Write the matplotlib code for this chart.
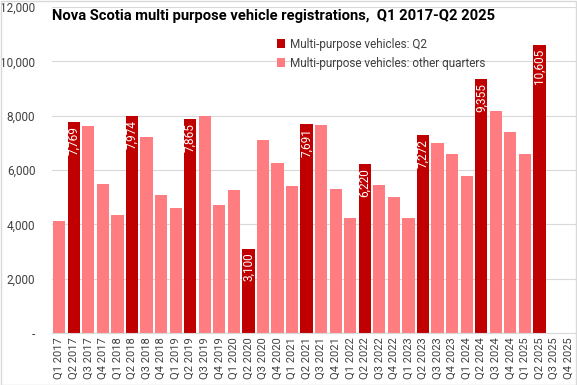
import matplotlib
matplotlib.use("Agg")
import matplotlib.pyplot as plt
import numpy as np
from matplotlib.ticker import FuncFormatter
from matplotlib.patches import Rectangle

years = list(range(2017, 2026))
categories = []
for y in years:
    for q in range(1, 5):
        categories.append(f"Q{q} {y}")

values = [4120, 7769, 7615, 5467,
          4356, 7974, 7208, 5090,
          4604, 7865, 7986, 4715,
          5271, 3100, 7086, 6271,
          5419, 7691, 7641, 5308,
          4234, 6220, 5456, 5012,
          4234, 7272, 6975, 6604,
          5789, 9355, 8160, 7382,
          6604, 10605, np.nan, np.nan]

q2_label = "Multi-purpose vehicles: Q2"
other_label = "Multi-purpose vehicles: other quarters"
title = "Nova Scotia multi purpose vehicle registrations,  Q1 2017-Q2 2025"

plt.rcParams['font.family'] = ['Roboto', 'DejaVu Sans']

fig = plt.figure(figsize=(5.77, 3.85), dpi=100)
ax = fig.add_axes([0.090, 0.135, 0.908, 0.847])
fig.patches.append(Rectangle((0.001, 0.001), 0.997, 0.996, transform=fig.transFigure,
                             fill=False, edgecolor='#D9D9D9', linewidth=1))

x = np.arange(len(categories))
vals = np.array(values, dtype=float)
is_q2 = np.array([c.startswith("Q2") for c in categories])
q2_vals = np.where(is_q2, vals, np.nan)
other_vals = np.where(~is_q2, vals, np.nan)

dark = '#C00000'
light = '#FF7C80'
ax.bar(x, q2_vals, width=0.84, color=dark, label=q2_label, zorder=2)
ax.bar(x, other_vals, width=0.84, color=light, label=other_label, zorder=2)

for xi, v in zip(x, q2_vals):
    if not np.isnan(v):
        ax.text(xi, v - 150, f"{int(v):,}", rotation=90, ha='center', va='top',
                color='white', fontsize=8.5, zorder=3)

ax.set_xlim(-0.5, len(categories) - 0.5)
ax.set_ylim(0, 12000)
ax.set_yticks(np.arange(0, 12001, 2000))
ax.yaxis.set_major_formatter(FuncFormatter(lambda v, p: "-" if v == 0 else f"{int(v):,}"))
ax.set_xticks(x)
ax.set_xticklabels(categories, rotation=90, fontsize=8, color='#404040')
ax.tick_params(axis='y', labelsize=8.5, colors='#404040', length=0, pad=12)
ax.tick_params(axis='x', length=0, pad=3)
ax.grid(axis='y', color='#D9D9D9', linewidth=0.8, zorder=0)
ax.set_axisbelow(True)
for s in ['top', 'right', 'left']:
    ax.spines[s].set_visible(False)
ax.spines['bottom'].set_color('#D9D9D9')

ax.text(0.0, 0.995, title, transform=ax.transAxes, fontsize=10.6, fontweight='bold',
        ha='left', va='top', color='black')

leg = ax.legend(loc='upper left', bbox_to_anchor=(0.42, 0.92), frameon=False,
                fontsize=8.5, handlelength=0.7, handleheight=0.7, handletextpad=0.4,
                labelspacing=0.5, borderaxespad=0)
for t in leg.get_texts():
    t.set_color('#404040')

fig.savefig("out.png", dpi=100)
